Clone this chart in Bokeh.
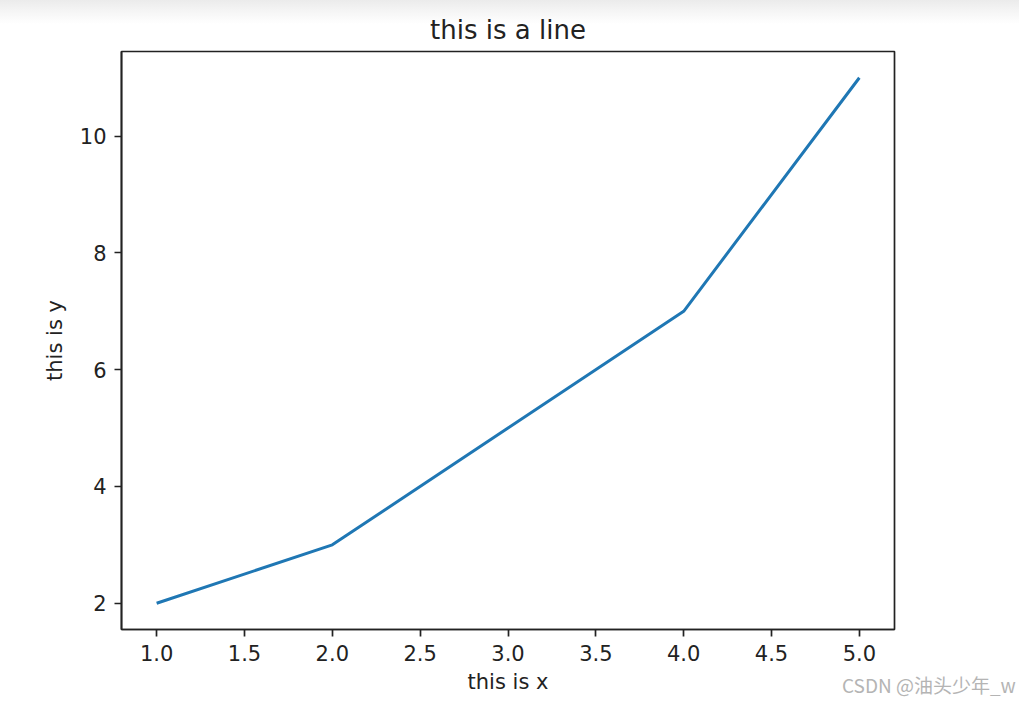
from bokeh.plotting import figure
from bokeh.models import Range1d, FixedTicker, NumeralTickFormatter
from bokeh.embed import file_html
from bokeh.resources import INLINE

# data
x_values = [1, 2, 3, 4, 5]
y_values = [2, 3, 5, 7, 11]
x_ticks = [1.0, 1.5, 2.0, 2.5, 3.0, 3.5, 4.0, 4.5, 5.0]
y_ticks = [2, 4, 6, 8, 10]
title_text = "this is a line"
x_label = "this is x"
y_label = "this is y"
watermark = "CSDN @油头少年_w"

FONT = "DejaVu Sans"

p = figure(width=1003, height=691, output_backend="svg", toolbar_location=None,
           x_range=Range1d(0.8, 5.2), y_range=Range1d(1.55, 11.45),
           min_border_left=113, min_border_right=117, min_border_top=46, min_border_bottom=63)

p.line(x_values, y_values, line_color="#1f77b4", line_width=3)

p.title.text = title_text
p.title.align = "center"
p.title.text_font = FONT
p.title.text_font_size = "26px"
p.title.text_font_style = "normal"
p.title.text_color = "#222222"
p.title.standoff = 14

p.grid.visible = False
p.outline_line_color = "#222222"
p.outline_line_width = 1.7
p.background_fill_color = "white"
p.border_fill_color = None

for ax in (p.xaxis[0], p.yaxis[0]):
    ax.axis_line_color = "#222222"
    ax.axis_line_width = 1.7
    ax.major_tick_line_color = "#222222"
    ax.major_tick_line_width = 1.7
    ax.major_tick_out = 7
    ax.major_tick_in = 0
    ax.minor_tick_line_color = None
    ax.major_label_text_font = FONT
    ax.major_label_text_font_size = "21px"
    ax.major_label_text_color = "#222222"
    ax.major_label_standoff = 8
    ax.axis_label_text_font = FONT
    ax.axis_label_text_font_size = "21px"
    ax.axis_label_text_font_style = "normal"
    ax.axis_label_text_color = "#222222"

p.xaxis[0].ticker = FixedTicker(ticks=x_ticks)
p.xaxis[0].formatter = NumeralTickFormatter(format="0.0")
p.yaxis[0].ticker = FixedTicker(ticks=y_ticks)
p.xaxis[0].axis_label = x_label
p.yaxis[0].axis_label = y_label
p.xaxis[0].axis_label_standoff = 6
p.yaxis[0].axis_label_standoff = 10

html = file_html(p, INLINE)
style = ('<style>html,body{margin:0;padding:0;} body{margin:5px 0 0 8px;position:relative;'
         'background:linear-gradient(#ebebeb 0px,#f4f4f4 10px,#ffffff 24px) no-repeat #ffffff;}'
         '.wm{position:absolute;left:834px;top:669px;font-family:"Noto Sans CJK SC",sans-serif;'
         'font-size:19px;line-height:21px;color:#b4b4b4;white-space:nowrap;z-index:10;}</style>')
wm_div = '<div class="wm">' + watermark + '</div>'
if "</head>" in html:
    html = html.replace("</head>", style + "</head>", 1)
else:
    html = style + html
if "</body>" in html:
    html = html.replace("</body>", wm_div + "</body>", 1)
else:
    html = html + wm_div
open("out.html", "w", encoding="utf-8").write(html)
